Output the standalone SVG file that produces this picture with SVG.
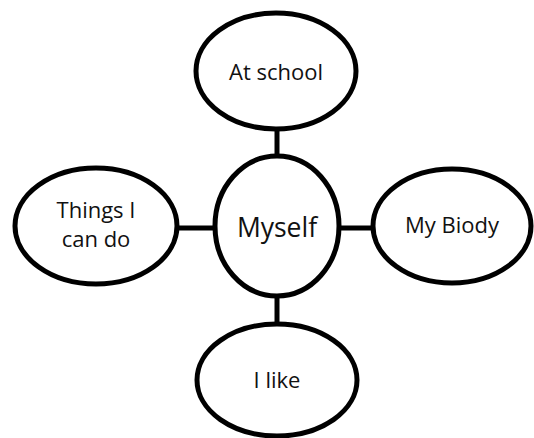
<svg xmlns="http://www.w3.org/2000/svg" width="534" height="438" viewBox="0 0 534 438">
<style>
.n{fill:#fff;stroke:#000;stroke-width:5}
.c{stroke:#000;stroke-width:5}
text{font-family:"Open Sans","Liberation Sans",sans-serif;font-size:22px;fill:#111;text-anchor:middle}
.big{font-size:26.5px}
</style>
<rect width="534" height="438" fill="#fff"/>
<g id="connectors">
<line class="c" x1="277" y1="128" x2="277" y2="156"/>
<line class="c" x1="177" y1="228" x2="215" y2="228"/>
<line class="c" x1="338" y1="228" x2="374" y2="228"/>
<line class="c" x1="277" y1="296" x2="277" y2="324"/>
</g>
<g id="at-school">
<ellipse class="n" cx="276" cy="71" rx="80" ry="58"/>
<text x="276" y="80">At school</text>
</g>
<g id="things-i-can-do">
<ellipse class="n" cx="96" cy="226" rx="81" ry="58"/>
<text x="96" y="218">Things I</text>
<text x="96" y="247">can do</text>
</g>
<g id="myself">
<ellipse class="n" cx="277" cy="226" rx="62" ry="70"/>
<text class="big" x="277" y="237">Myself</text>
</g>
<g id="my-body">
<ellipse class="n" cx="452" cy="226" rx="79" ry="57"/>
<text x="452" y="233">My Biody</text>
</g>
<g id="i-like">
<ellipse class="n" cx="277" cy="380" rx="80" ry="56"/>
<text x="277" y="388">I like</text>
</g>
</svg>
